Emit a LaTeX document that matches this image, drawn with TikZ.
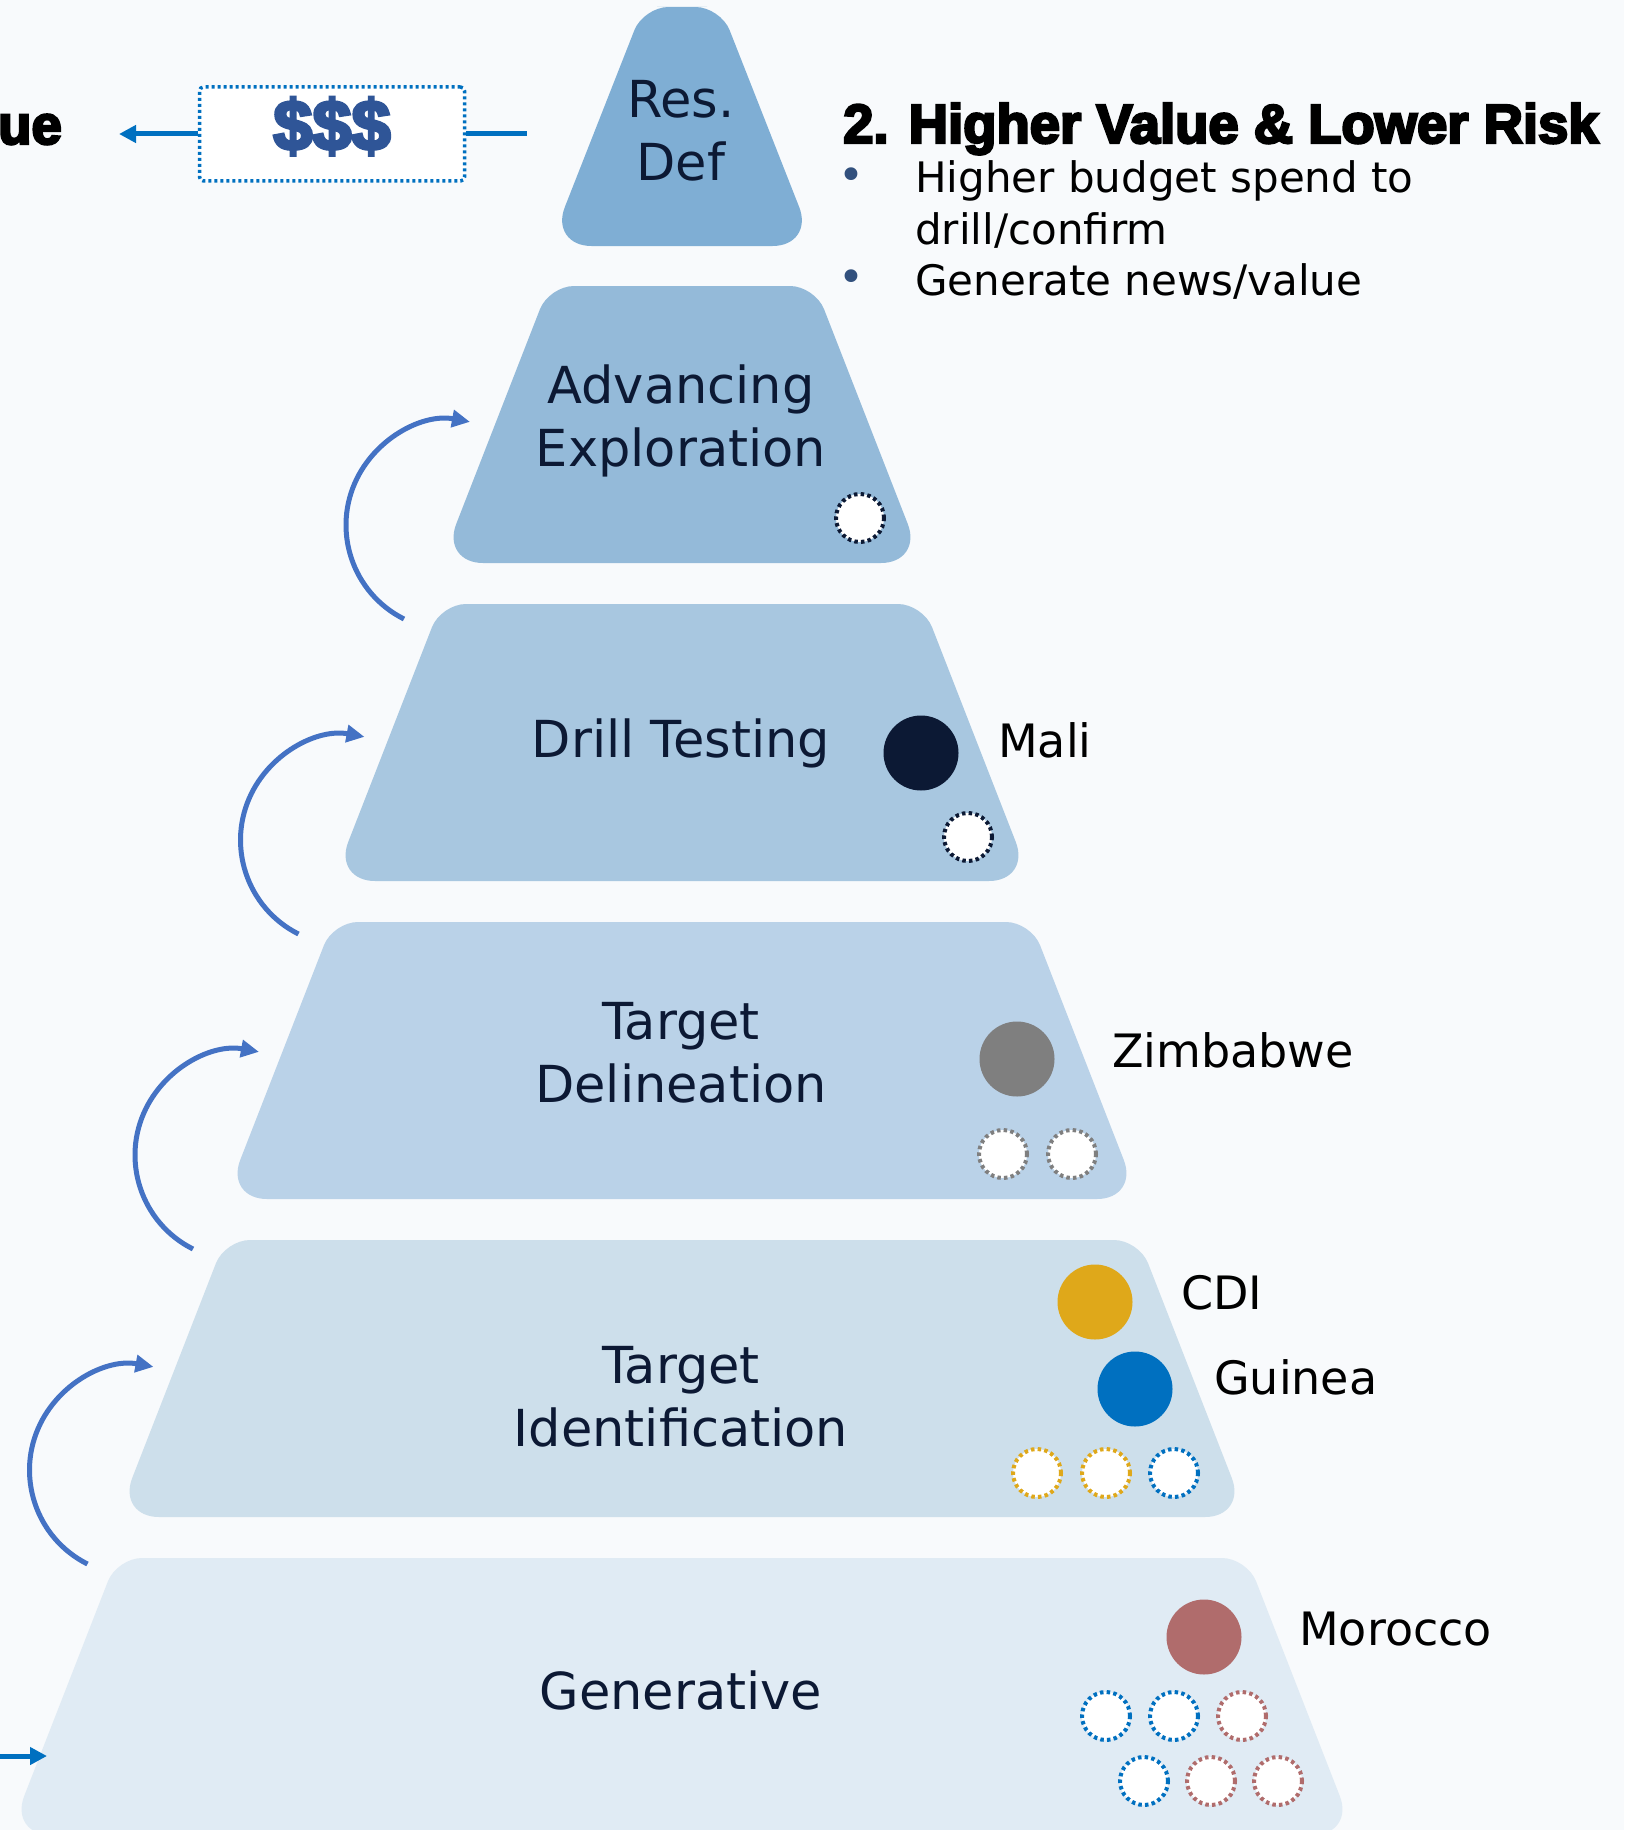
\documentclass[tikz,border=0pt]{standalone}
\usepackage{fontspec}
\setmainfont{DejaVu Sans}
\newfontfamily\titlefont[FakeBold=4.5,FakeStretch=0.99]{Liberation Sans Bold}
\usetikzlibrary{arrows.meta}
\definecolor{bgc}{RGB}{248,250,252}
\definecolor{lv1}{RGB}{127,174,212}
\definecolor{lv2}{RGB}{148,186,217}
\definecolor{lv3}{RGB}{168,199,224}
\definecolor{lv4}{RGB}{186,210,232}
\definecolor{lv5}{RGB}{205,223,235}
\definecolor{lv6}{RGB}{224,235,244}
\definecolor{navy}{RGB}{12,25,52}
\definecolor{zgrey}{RGB}{127,127,127}
\definecolor{cdiy}{RGB}{223,168,26}
\definecolor{guib}{RGB}{0,112,192}
\definecolor{morr}{RGB}{176,108,108}
\definecolor{arcb}{RGB}{68,114,196}
\definecolor{moneyb}{RGB}{47,85,151}
\definecolor{bulc}{RGB}{50,80,125}
\newcommand\pyrlevel[5]{%
  \fill[#5] (682,#1) [rounded corners=25pt] -- (682+#2,#1)
    -- ({682+(#2+#4)/2},{(#1+#3)/2}) [rounded corners=42pt]
    -- (682+#4,#3) -- (682-#4,#3)
    -- ({682-(#2+#4)/2},{(#1+#3)/2}) [rounded corners=25pt]
    -- (682-#2,#1) -- cycle;}
\tikzset{
  lvltext/.style={align=center, text=navy, inner sep=0pt,
    font=\fontsize{51}{63}\selectfont},
  lbl/.style={anchor=base west, inner sep=0pt, text=black,
    font=\fontsize{46}{46}\selectfont},
  bultext/.style={anchor=base west, inner sep=0pt, text=black,
    font=\fontsize{42}{42}\selectfont},
  bulmark/.style={anchor=base, inner sep=0pt, text=bulc,
    font=\fontsize{44}{44}\selectfont},
  dotc/.style={circle, draw=#1, fill=white, line width=4pt,
    dash pattern=on 3.5pt off 3.2pt, minimum size=48pt, inner sep=0pt},
  fillc/.style={circle, fill=#1, minimum size=75pt, inner sep=0pt},
  curvarr/.style={draw=arcb, line width=5pt, -{Triangle[length=18pt,width=17pt]}},
  strarr/.style={draw=guib, line width=5pt, -{Triangle[length=17pt,width=17pt]}},
  strline/.style={draw=guib, line width=5pt},
  heavy/.style={inner sep=0pt, text=black,
    font=\titlefont\fontsize{55}{55}\selectfont},
}
\begin{document}
\begin{tikzpicture}[x=1pt,y=-1pt]
\useasboundingbox (0,0) rectangle (1624,1830);
\clip (0,0) rectangle (1624,1830);
\fill[bgc] (0,0) rectangle (1624,1830);

% pyramid levels
\pyrlevel{7}{38.5}{246}{132.5}{lv1}
\pyrlevel{286}{133}{563}{241}{lv2}
\pyrlevel{604}{241}{881}{349}{lv3}
\pyrlevel{922}{349}{1199}{457}{lv4}
\pyrlevel{1240}{457}{1517}{565}{lv5}
\pyrlevel{1558}{565}{1835}{673}{lv6}

% level texts
\node[lvltext] (resdef) at (681,131) {Res.\\Def};
\node[lvltext] (advexp) at (681,421) {Advancing\\Exploration};
\node[lvltext] (drill) at (681,743) {Drill Testing};
\node[lvltext] (tdel) at (681,1053) {Target\\Delineation};
\node[lvltext] (tid) at (681,1397) {Target\\Identification};
\node[lvltext] (gen) at (681,1690) {Generative};

% circles
\node[dotc=navy] (d2a) at (860,518) {};
\node[fillc=navy] (mali) at (921,753) {};
\node[dotc=navy] (d3a) at (968,837) {};
\node[fillc=zgrey] (zim) at (1017,1059) {};
\node[dotc=zgrey] (d4a) at (1003,1154) {};
\node[dotc=zgrey] (d4b) at (1072,1154) {};
\node[fillc=cdiy] (cdi) at (1095,1302) {};
\node[fillc=guib] (gui) at (1135,1389) {};
\node[dotc=cdiy] (d5a) at (1037,1473) {};
\node[dotc=cdiy] (d5b) at (1106,1473) {};
\node[dotc=guib] (d5c) at (1174,1473) {};
\node[fillc=morr] (mor) at (1204,1637) {};
\node[dotc=guib] (d6a) at (1106,1716) {};
\node[dotc=guib] (d6b) at (1174,1716) {};
\node[dotc=morr] (d6c) at (1242,1716) {};
\node[dotc=guib] (d6d) at (1144,1781) {};
\node[dotc=morr] (d6e) at (1211,1781) {};
\node[dotc=morr] (d6f) at (1278,1781) {};

% country labels
\node[lbl] (malil) at (998,757) {Mali};
\node[lbl] (ziml) at (1112,1067) {Zimbabwe};
\node[lbl] (cdil) at (1181,1309) {CDI};
\node[lbl] (guil) at (1214,1394) {Guinea};
\node[lbl] (morl) at (1299,1645) {Morocco};

% title and bullets
\node[heavy, anchor=base west] (title) at (843,143) {2. Higher Value \& Lower Risk};
\node[bulmark] (b1) at (851,190) {•};
\node[bultext] (t1) at (915,193) {Higher budget spend to};
\node[bultext] (t2) at (915,244) {drill/confirm};
\node[bulmark] (b2) at (851,292) {•};
\node[bultext] (t3) at (915,295) {Generate news/value};

% value text and money box
\node[heavy, anchor=base east] (val) at (62,144) {ue};
\node[draw=guib, fill=white, line width=3.5pt, dash pattern=on 3pt off 3pt,
  rounded corners=4pt, minimum width=265pt, minimum height=94pt, inner sep=0pt,
  text=moneyb, text height=42pt, text depth=10pt,
  font=\titlefont\fontsize{71}{71}\selectfont] (money) at (332,134) {\$\$\$};
\coordinate (tipL) at (119,134);
\coordinate (endR) at (527,134);
\draw[strarr] (money.west) -- (tipL);
\draw[strline] (money.east) -- (endR);

% bottom input arrow
\coordinate (inS) at (0,1756);
\coordinate (inE) at (47,1756);
\draw[strarr] (inS) -- (inE);

% curved arrows
\coordinate (c1) at (404,619);
\coordinate (c2) at (298.5,934);
\coordinate (c3) at (193,1249);
\coordinate (c4) at (87.5,1564);
\draw[curvarr] (c1) arc[start angle=243.4, end angle=79.6, radius=105pt];
\draw[curvarr] (c2) arc[start angle=243.4, end angle=79.6, radius=105pt];
\draw[curvarr] (c3) arc[start angle=243.4, end angle=79.6, radius=105pt];
\draw[curvarr] (c4) arc[start angle=243.4, end angle=79.6, radius=105pt];
\end{tikzpicture}
\end{document}
